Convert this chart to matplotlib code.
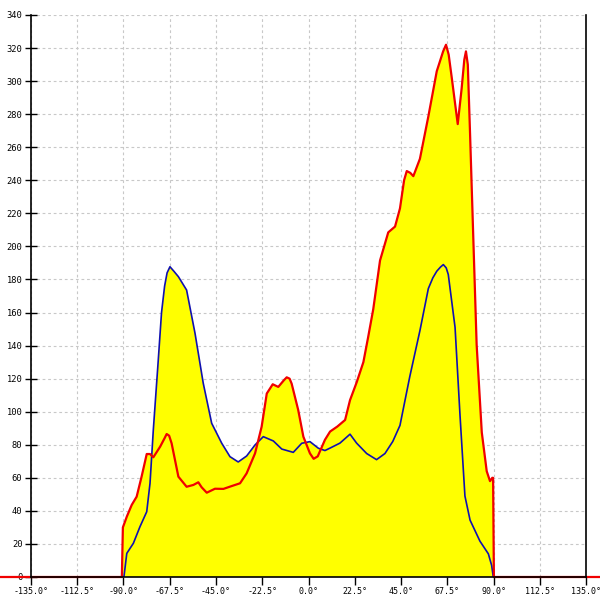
import numpy as np
import matplotlib
matplotlib.use("Agg")
import matplotlib.pyplot as plt
from matplotlib.ticker import FuncFormatter

# DATOS (angulo en grados, valor)

red_angle = [-180, -90.8, -90.3, -88.4, -86.0, -83.6, -81.2, -78.7, -77.1, -75.5,
             -72.2, -70.0, -69.0, -67.8, -66.6, -63.3, -59.3, -56.0, -53.6, -52.0,
             -49.5, -45.5, -41.4, -37.4, -33.3, -30.1, -26.0, -22.8, -20.3, -17.4,
             -14.7, -12.0, -10.6, -9.2, -8.2, -5.0, -2.5, 0.7, 2.5, 4.5,
             8.0, 10.5, 14.0, 17.8, 20.2, 23.5, 26.7, 29.0, 31.5, 34.8,
             38.8, 42.1, 44.5, 46.5, 47.8, 49.5, 51.0, 54.2, 58.3, 62.4,
             65.5, 66.9, 68.2, 69.7, 72.6, 74.5, 75.8, 76.6, 77.5, 78.6,
             80.2, 81.8, 84.3, 86.7, 88.3, 89.4, 89.8, 90.2, 180]
red_value = [0, 0, 30, 36.5, 43.6, 48.6, 60.7, 74.4, 74.4, 72.4,
             78.8, 84.0, 86.5, 85.5, 80.9, 60.7, 54.6, 55.7, 57.3, 54.3,
             51.0, 53.4, 53.3, 55.0, 56.7, 62.7, 74.8, 90.9, 111.0, 116.6,
             115.0, 119.0, 120.8, 120.0, 117.0, 101.0, 84.9, 74.8, 71.5, 73.0,
             83.0, 88.0, 91.0, 95.0, 107.0, 118.0, 130.0, 145.0, 162.0, 191.5,
             208.5, 212.0, 223.0, 240.0, 245.6, 244.5, 242.5, 253.0, 278.6, 306.0,
             318.0, 322.0, 316.0, 302.0, 274.0, 295.5, 313.0, 318.0, 310.0, 268.0,
             204.0, 140.5, 87.5, 64.0, 58.0, 60.0, 60.0, 0, 0]

blue_angle = [-180, -89.8, -88.4, -85.2, -82.0, -78.7, -77.1, -75.5, -73.1, -71.5,
              -70.0, -68.8, -67.4, -65.5, -63.3, -59.3, -55.2, -51.2, -47.1, -42.2,
              -38.2, -34.2, -30.1, -26.0, -22.0, -17.1, -13.0, -7.4, -3.3, 0.7,
              4.8, 8.0, 10.5, 15.3, 20.2, 23.4, 28.3, 33.1, 37.2, 41.0,
              44.5, 49.3, 54.2, 58.3, 60.5, 62.4, 64.2, 65.6, 67.0, 68.0,
              71.3, 73.7, 76.1, 78.6, 83.4, 87.5, 89.1, 89.9, 180]
blue_value = [0, 0, 14.3, 20.4, 30.4, 39.5, 56.7, 88.9, 131.0, 160.0,
              176.0, 184.0, 187.7, 185.0, 181.7, 173.6, 147.4, 117.2, 93.0, 80.9,
              72.8, 69.6, 73.2, 79.9, 84.9, 82.3, 77.4, 75.4, 80.9, 81.9,
              77.9, 76.5, 78.0, 81.0, 86.4, 81.0, 74.7, 71.0, 74.7, 82.0,
              91.7, 121.4, 149.0, 174.5, 181.0, 185.0, 187.5, 189.0, 187.0, 183.0,
              151.0, 98.0, 49.0, 34.4, 21.7, 14.0, 7.0, 0, 0]

x_ticks = np.arange(-135, 135.1, 22.5)
y_ticks = np.arange(0, 341, 20)

# GRAFICA

fig = plt.figure(figsize=(6, 6), dpi=100)
ax = fig.add_axes([31 / 600, 23 / 600, 555 / 600, 562 / 600])

ax.fill_between(red_angle, red_value, color="#ffff00", linewidth=0)
ax.fill_between(blue_angle, blue_value, color="#ffff00", linewidth=0)
ax.plot(blue_angle, blue_value, color="#1010b0", linewidth=1.2)
ax.plot(red_angle, red_value, color="#f00000", linewidth=1.6, clip_on=False)

ax.set_xlim(-135, 135)
ax.set_ylim(0, 340)
ax.set_xticks(x_ticks)
ax.set_yticks(y_ticks)
ax.xaxis.set_major_formatter(FuncFormatter(lambda v, p: f"{v:.1f}°"))
ax.yaxis.set_major_formatter(FuncFormatter(lambda v, p: f"{v:.0f}"))

ax.grid(True, color="#c8c8c8", linestyle=(0, (2.5, 2.5)), linewidth=0.8)
ax.set_axisbelow(True)

for s in ["left", "right", "bottom"]:
    ax.spines[s].set_color("black")
    ax.spines[s].set_linewidth(1.2)
ax.spines["top"].set_visible(False)

ax.tick_params(axis="y", direction="inout", length=8.5, width=1, pad=2,
               labelsize=6.3)
ax.tick_params(axis="x", direction="out", length=5.5, width=1, pad=1.5,
               labelsize=6.0)
for lab in ax.get_xticklabels() + ax.get_yticklabels():
    lab.set_family("DejaVu Sans Mono")

plt.savefig("out.png", dpi=100)
